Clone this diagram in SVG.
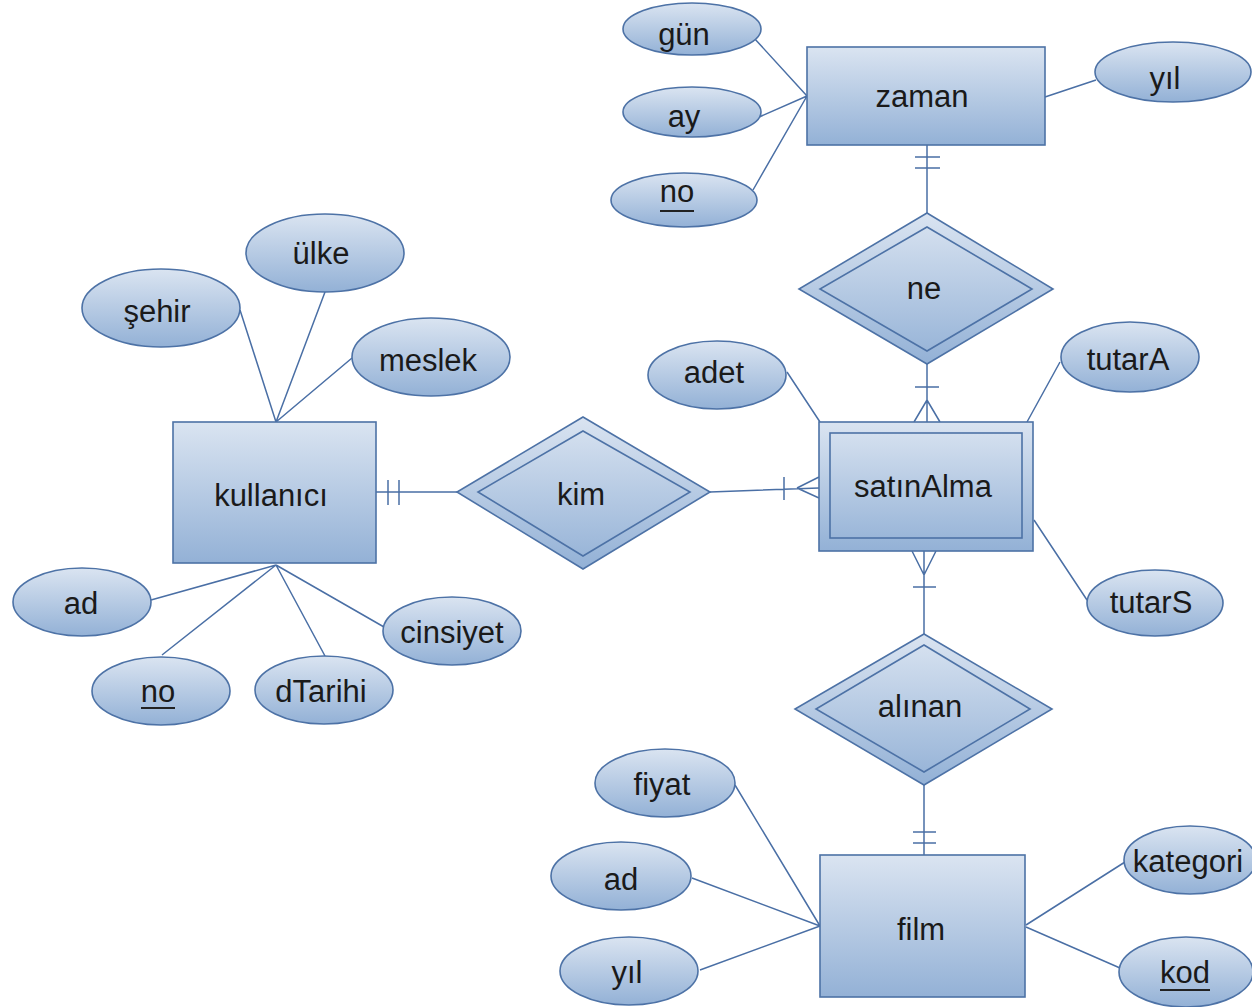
<svg xmlns="http://www.w3.org/2000/svg" width="1252" height="1007" viewBox="0 0 1252 1007">
<defs>
<linearGradient id="g" x1="0" y1="0" x2="0" y2="1">
<stop offset="0" stop-color="#dae4f1"/>
<stop offset="1" stop-color="#93b1d6"/>
</linearGradient>
</defs>
<style>
.s{fill:url(#g);stroke:#4d72a6;stroke-width:1.6}
.i{fill:none;stroke:#4d72a6;stroke-width:1.6}
.c{fill:none;stroke:#4a6fa5;stroke-width:1.5}
text{font-family:"Liberation Sans",Arial,sans-serif;font-size:31px;fill:#1a1a1a;text-anchor:middle}
.u{stroke:#222;stroke-width:2}
</style>
<rect width="1252" height="1007" fill="#fff"/>
<g id="connectors">
<path class="c" d="M754 38L807 96M757 118L807 96M753 190L807 96M1045 97L1096 80"/>
<path class="c" d="M927 145V213M915 157H940M915 168H940"/>
<path class="c" d="M927 364V422M915 387H939M927 400L914 422M927 400L940 422"/>
<path class="c" d="M787 372L820 422M1060 362L1027 422M1034 520L1087 600"/>
<path class="c" d="M376 492H457M388 480V505M399 480V505"/>
<path class="c" d="M710 492L819 488M784 477V500M797 488L819 477M797 488L819 498"/>
<path class="c" d="M924 551V634M924 575L912 551M924 575L936 551M913 587H936"/>
<path class="c" d="M924 785V855M913 832H936M913 843H936"/>
<path class="c" d="M735 785L820 926M692 878L820 926M700 970L820 926M1125 862L1026 925M1026 927L1120 968"/>
<path class="c" d="M240 310L276 422M325 292L276 422M352 358L276 422"/>
<path class="c" d="M151 600L276 565M162 655L276 565M325 656L276 565M384 627L276 565"/>
</g>
<g id="zaman"><rect class="s" x="807" y="47" width="238" height="98"/><text x="922" y="107">zaman</text></g>
<g id="gun"><ellipse class="s" cx="692" cy="29" rx="69" ry="26"/><text x="684" y="45">gün</text></g>
<g id="ay"><ellipse class="s" cx="692" cy="112" rx="69" ry="25"/><text x="684" y="127">ay</text></g>
<g id="no1"><ellipse class="s" cx="684" cy="200" rx="73" ry="27"/><text x="677" y="202">no</text><line class="u" x1="660" y1="211" x2="694" y2="211"/></g>
<g id="yil1"><ellipse class="s" cx="1173" cy="72" rx="78" ry="30"/><text x="1165" y="89">yıl</text></g>
<g id="ne"><polygon class="s" points="927,213 1053,289 927,364 799,289"/><polygon class="i" points="927,227 1032,289 927,351 820,289"/><text x="924" y="299">ne</text></g>
<g id="satinAlma"><rect class="s" x="819" y="422" width="214" height="129"/><rect class="i" x="830" y="433" width="192" height="105"/><text x="923" y="497">satınAlma</text></g>
<g id="adet"><ellipse class="s" cx="717" cy="375" rx="69" ry="34"/><text x="714" y="383">adet</text></g>
<g id="tutarA"><ellipse class="s" cx="1130" cy="357" rx="69" ry="35"/><text x="1128" y="370">tutarA</text></g>
<g id="tutarS"><ellipse class="s" cx="1155" cy="603" rx="68" ry="33"/><text x="1151" y="613">tutarS</text></g>
<g id="kim"><polygon class="s" points="583,417 710,492 583,569 457,492"/><polygon class="i" points="583,431 690,492 583,556 478,492"/><text x="581" y="505">kim</text></g>
<g id="kullanici"><rect class="s" x="173" y="422" width="203" height="141"/><text x="271" y="506">kullanıcı</text></g>
<g id="sehir"><ellipse class="s" cx="161" cy="308" rx="79" ry="39"/><text x="157" y="322">şehir</text></g>
<g id="ulke"><ellipse class="s" cx="325" cy="253" rx="79" ry="39"/><text x="321" y="264">ülke</text></g>
<g id="meslek"><ellipse class="s" cx="431" cy="357" rx="79" ry="39"/><text x="428" y="371">meslek</text></g>
<g id="ad1"><ellipse class="s" cx="82" cy="602" rx="69" ry="34"/><text x="81" y="614">ad</text></g>
<g id="no2"><ellipse class="s" cx="161" cy="691" rx="69" ry="34"/><text x="158" y="702">no</text><line class="u" x1="141" y1="708" x2="175" y2="708"/></g>
<g id="dTarihi"><ellipse class="s" cx="324" cy="690" rx="69" ry="34"/><text x="321" y="702">dTarihi</text></g>
<g id="cinsiyet"><ellipse class="s" cx="452" cy="631" rx="69" ry="34"/><text x="452" y="643">cinsiyet</text></g>
<g id="alinan"><polygon class="s" points="924,634 1052,709 924,785 795,709"/><polygon class="i" points="924,645 1030,709 924,772 816,709"/><text x="920" y="717">alınan</text></g>
<g id="film"><rect class="s" x="820" y="855" width="205" height="142"/><text x="921" y="940">film</text></g>
<g id="fiyat"><ellipse class="s" cx="665" cy="783" rx="70" ry="34"/><text x="662" y="795">fiyat</text></g>
<g id="ad2"><ellipse class="s" cx="621" cy="876" rx="70" ry="34"/><text x="621" y="890">ad</text></g>
<g id="yil2"><ellipse class="s" cx="629" cy="971" rx="69" ry="34"/><text x="627" y="983">yıl</text></g>
<g id="kategori"><ellipse class="s" cx="1190" cy="860" rx="66" ry="34"/><text x="1188" y="872">kategori</text></g>
<g id="kod"><ellipse class="s" cx="1186" cy="972" rx="67" ry="35"/><text x="1185" y="983">kod</text><line class="u" x1="1160" y1="990" x2="1210" y2="990"/></g>
</svg>
